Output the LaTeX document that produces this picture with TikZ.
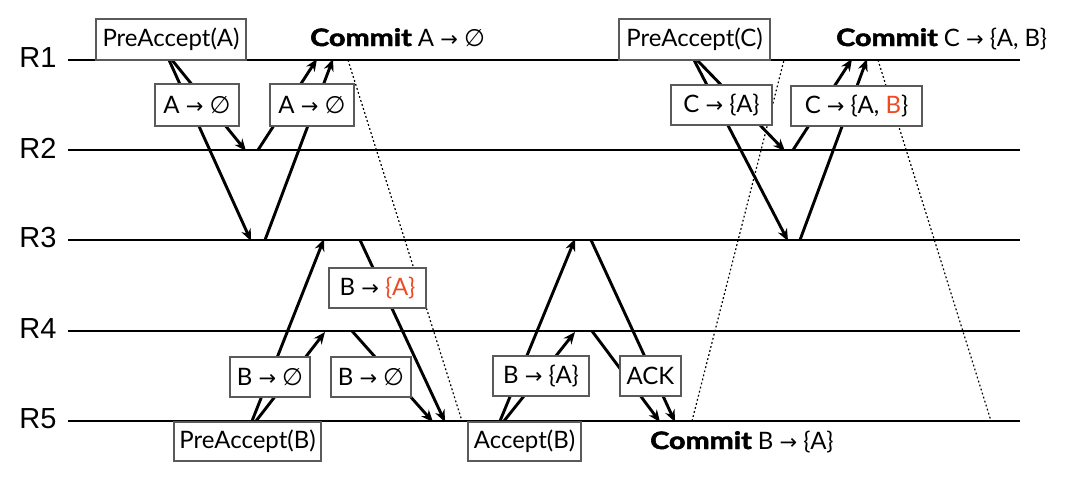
\documentclass[tikz,border=0pt]{standalone}
\usepackage{fontspec}
\setmainfont{Lato}
\newfontfamily\rfont{Liberation Sans}
\newfontfamily\dejavu{DejaVu Sans}
\newfontfamily\heavy[FakeBold=2]{Lato}
\usetikzlibrary{arrows.meta}
\definecolor{hl}{RGB}{238,74,36}
\definecolor{boxgray}{RGB}{90,90,90}
\newcommand\myarr{{\dejavu\fontsize{21}{24}\selectfont →}}
\newcommand\myempty{{\dejavu ∅}}
\newcommand\cmt{\scalebox{1.2}[1]{\heavy\bfseries Commit}}
\tikzset{
  tline/.style={line width=2.1pt, black},
  msg/.style={line width=2.9pt, black, -{Stealth[length=12pt,width=10pt]}},
  dots/.style={line width=1.2pt, black, dash pattern=on 1.8pt off 2.4pt},
  msgbox/.style={draw=boxgray, line width=1.1pt, fill=white, inner sep=0pt, font=\fontsize{24}{27}\selectfont, text=black},
  rlab/.style={font=\rfont\fontsize{29}{33}\selectfont},
  commit/.style={font=\fontsize{24}{27}\selectfont, inner sep=0pt, anchor=base west}
}
\begin{document}
\begin{tikzpicture}[x=1pt,y=-1pt]
\useasboundingbox (0,0) rectangle (1080,480);
% process lines
\foreach \i/\yy in {1/60,2/150,3/240,4/331,5/421}{
  \coordinate (L\i a) at (68,\yy);
  \coordinate (L\i b) at (1020,\yy);
  \draw[tline] (L\i a) -- (L\i b);
  \node[rlab] (r\i) at (38,\yy-2) {R\i};
}
% ---------- A ----------
\coordinate (a0a) at (169,60);
\coordinate (a0b) at (172,60);
\coordinate (a2) at (246,151);
\coordinate (a3) at (251,241);
\coordinate (a2r) at (258,150);
\coordinate (a3r) at (265,240);
\coordinate (a1a) at (317,59);
\coordinate (a1b) at (333,59);
\draw[msg] (a0b) -- (a2);
\draw[msg] (a0a) -- (a3);
\draw[msg] (a2r) -- (a1a);
\draw[msg] (a3r) -- (a1b);
% ---------- C ----------
\coordinate (c0a) at (694,60);
\coordinate (c0b) at (697,60);
\coordinate (c2) at (785,151);
\coordinate (c3) at (788,241);
\coordinate (c2r) at (793,150);
\coordinate (c3r) at (800,240);
\coordinate (c1a) at (852,59);
\coordinate (c1b) at (867,59);
\draw[msg] (c0b) -- (c2);
\draw[msg] (c0a) -- (c3);
\draw[msg] (c2r) -- (c1a);
\draw[msg] (c3r) -- (c1b);
% ---------- B preaccept ----------
\coordinate (b0a) at (252,421);
\coordinate (b0b) at (256,421);
\coordinate (b3) at (324,239);
\coordinate (b4) at (325,332);
\coordinate (b3r) at (360,240);
\coordinate (b4r) at (352,331);
\coordinate (b5a) at (433,422);
\coordinate (b5b) at (445,422);
\draw[msg] (b0a) -- (b3);
\draw[msg] (b0b) -- (b4);
\draw[msg] (b4r) -- (b5a);
\draw[msg] (b3r) -- (b5b);
% ---------- B accept ----------
\coordinate (d0a) at (500,421);
\coordinate (d0b) at (504,421);
\coordinate (d3) at (575,239);
\coordinate (d4) at (575,332);
\coordinate (d3r) at (591,240);
\coordinate (d4r) at (592,331);
\coordinate (d5a) at (660,422);
\coordinate (d5b) at (675,422);
\draw[msg] (d0a) -- (d3);
\draw[msg] (d0b) -- (d4);
\draw[msg] (d4r) -- (d5a);
\draw[msg] (d3r) -- (d5b);
% ---------- dotted commit messages ----------
\coordinate (p1) at (348,60);
\coordinate (p2) at (462,421);
\coordinate (q1) at (692,421);
\coordinate (q2) at (784,60);
\coordinate (s1) at (878,60);
\coordinate (s2) at (991,421);
\draw[dots] (p1) -- (p2);
\draw[dots] (q1) -- (q2);
\draw[dots] (s1) -- (s2);
% ---------- boxes ----------
\node[msgbox, minimum width=150pt, minimum height=41pt] (paA) at (171,39.5) {PreAccept(A)};
\node[msgbox, minimum width=84pt, minimum height=42pt] (mA1) at (197,105) {A \myarr\ \myempty};
\node[msgbox, minimum width=84pt, minimum height=42pt] (mA2) at (312,105) {A \myarr\ \myempty};
\node[msgbox, minimum width=151pt, minimum height=41pt] (paC) at (694.5,39.5) {PreAccept(C)};
\node[msgbox, minimum width=101pt, minimum height=40pt] (mC1) at (721.5,105) {C \myarr\ \{A\}};
\node[msgbox, minimum width=131pt, minimum height=40pt] (mC2) at (856.5,106) {C \myarr\ \{A, \textcolor{hl}{B}\}};
\node[msgbox, minimum width=97pt, minimum height=40pt] (mB0) at (377.5,288) {B \myarr\ \textcolor{hl}{\{A\}}};
\node[msgbox, minimum width=80pt, minimum height=40pt] (mB1) at (270,377) {B \myarr\ \myempty};
\node[msgbox, minimum width=80pt, minimum height=40pt] (mB2) at (371,377) {B \myarr\ \myempty};
\node[msgbox, minimum width=147pt, minimum height=39pt] (paB) at (247.5,441.5) {PreAccept(B)};
\node[msgbox, minimum width=113pt, minimum height=39pt] (acB) at (524.5,441.5) {Accept(B)};
\node[msgbox, minimum width=96pt, minimum height=40pt] (mB3) at (541,376) {B \myarr\ \{A\}};
\node[msgbox, minimum width=61pt, minimum height=40pt] (ack) at (650.5,376) {ACK};
% ---------- commit labels ----------
\node[commit] (cmA) at (310,46) {\cmt{} A \myarr\ \myempty};
\node[commit] (cmC) at (836,46) {\cmt{} C \myarr\ \{A, B\}};
\node[commit] (cmB) at (650,449) {\cmt{} B \myarr\ \{A\}};
\end{tikzpicture}
\end{document}
